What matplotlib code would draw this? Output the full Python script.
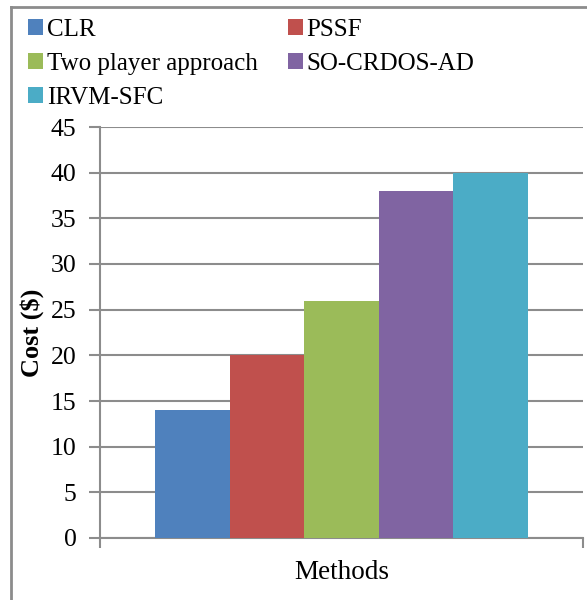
import matplotlib.pyplot as plt
from matplotlib.lines import Line2D

plt.rcParams['font.family'] = ['Liberation Serif', 'DejaVu Serif']

methods = ["CLR", "PSSF", "Two player approach", "SO-CRDOS-AD", "IRVM-SFC"]
cost = [14, 20, 26, 38, 40]
colors = ["#4f81bd", "#c0504d", "#9bbb59", "#8064a2", "#4bacc6"]
yticks = [0, 5, 10, 15, 20, 25, 30, 35, 40, 45]

fig = plt.figure(figsize=(5.87, 6), dpi=100)
ax = fig.add_axes([100/587, 62/600, 483/587, 411/600])

bars = []
for i in range(len(methods)):
    b = ax.bar(i - 2, cost[i], width=1.0, color=colors[i], zorder=3)
    bars.append(b)

ax.set_xlim(-3.245, 3.245)
ax.set_ylim(0, 45)
ax.set_yticks(yticks)
ax.yaxis.grid(True, color="#8c8c8c", linewidth=1.5, zorder=0)
ax.set_xticks([-3.245, 3.245])
ax.set_xticklabels(["", ""])
ax.tick_params(axis="x", length=7, width=1.5, color="#8c8c8c")
ax.tick_params(axis="y", length=8, width=1.5, color="#8c8c8c", labelsize=18.5, pad=9)
for s in ["top", "right"]:
    ax.spines[s].set_visible(False)
for s in ["left", "bottom"]:
    ax.spines[s].set_color("#8c8c8c")
    ax.spines[s].set_linewidth(1.5)

ax.set_xlabel("Methods", fontsize=19.5)
ax.xaxis.set_label_coords(0.5, -22/411)
ax.set_ylabel("Cost ($)", fontsize=19, fontweight="bold")
ax.yaxis.set_label_coords(-56/483, 0.5)

# legend, row-major order like the original
order = [0, 2, 4, 1, 3]
leg = fig.legend([bars[i] for i in order], [methods[i] for i in order],
                 ncol=2, loc="upper left", bbox_to_anchor=(28/587, 1 - 19/600),
                 frameon=False, fontsize=18, handlelength=0.6, handleheight=0.6,
                 handletextpad=0.15, columnspacing=1.2, labelspacing=0.48,
                 borderpad=0, borderaxespad=0)

# chart border
fig.add_artist(Line2D([10.5/587, 10.5/587], [0, 1 - 7/600], color="#8c8c8c", lw=2))
fig.add_artist(Line2D([10.5/587, 1], [1 - 7/600, 1 - 7/600], color="#8c8c8c", lw=2))

fig.savefig("out.png", dpi=100)
